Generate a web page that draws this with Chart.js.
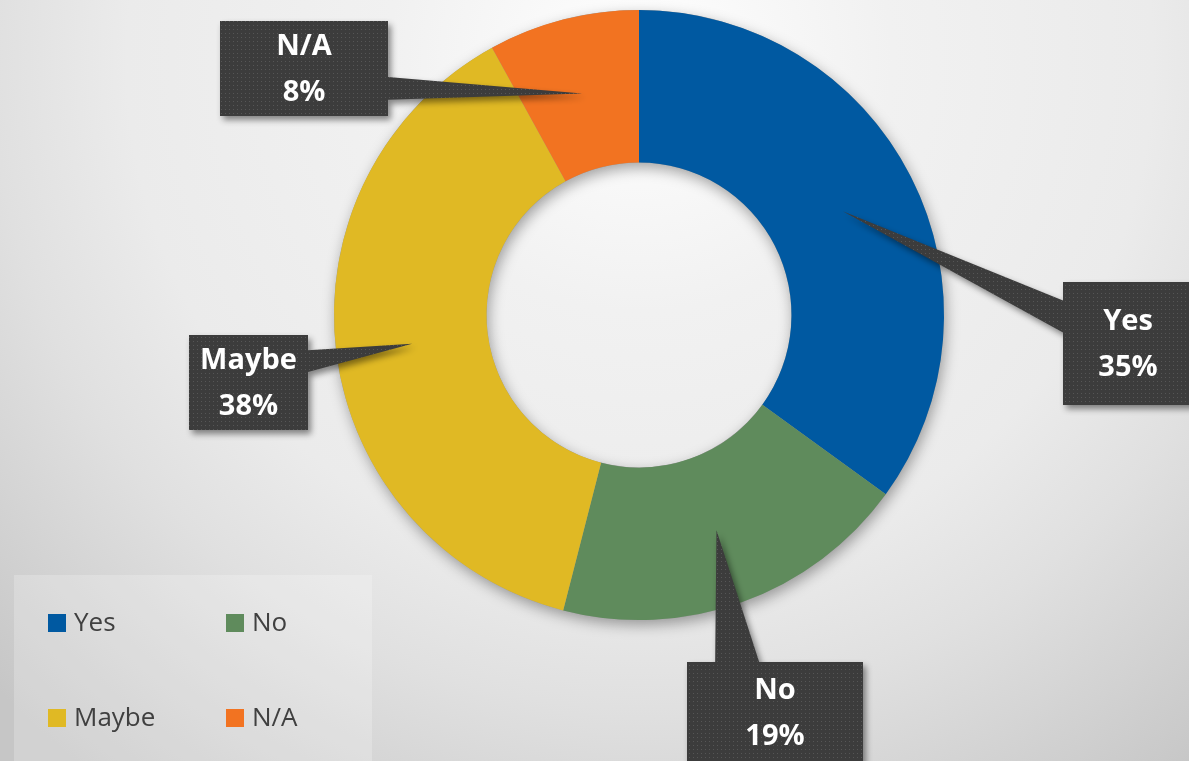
<!DOCTYPE html>
<html>
<head>
<meta charset="utf-8">
<title>Survey answers</title>
<script src="https://cdn.jsdelivr.net/npm/chart.js@4/dist/chart.umd.min.js"></script>
<style>
  html, body { margin: 0; padding: 0; background: #e8e8e8; }
  #wrap { position: relative; width: 1189px; height: 761px; overflow: hidden; }
  canvas { display: block; }
</style>
</head>
<body>
<div id="wrap">
  <canvas id="donut" width="1189" height="761"></canvas>
</div>
<script>
  // Chart data
  const labels = ["Yes", "No", "Maybe", "N/A"];
  const percentages = [35, 19, 38, 8];
  const sliceColors = ["#0059A1", "#5F8B5C", "#E0B924", "#F27321"];

  // Callout boxes (layout only), one per slice in the same order as labels
  const calloutBoxes = [
    { x: 1063, y: 282, w: 130, h: 123, side: "left",  base: [0.15, 0.41] },
    { x: 687,  y: 662, w: 176, h: 101, side: "top",   base: [0.16, 0.41] },
    { x: 189,  y: 335, w: 119, h: 95,  side: "right", base: [0.16, 0.39] },
    { x: 220,  y: 21,  w: 168, h: 95,  side: "right", base: [0.59, 0.83] }
  ];

  const FONT = "'Open Sans', 'Noto Sans', 'DejaVu Sans', sans-serif";

  // small dotted tile used to fill the callouts
  function makeDotPattern(ctx) {
    const tile = document.createElement("canvas");
    tile.width = 4;
    tile.height = 4;
    const t = tile.getContext("2d");
    t.fillStyle = "#3c3c3c";
    t.fillRect(0, 0, 4, 4);
    t.fillStyle = "#565656";
    t.fillRect(1, 1, 1, 1);
    return ctx.createPattern(tile, "repeat");
  }

  // Background gradient and legend panel
  const backgroundPlugin = {
    id: "backgroundPlugin",
    beforeDraw(chart) {
      const ctx = chart.ctx;
      const w = chart.width, h = chart.height;
      ctx.save();
      const g = ctx.createRadialGradient(640, 60, 0, 640, 60, 900);
      g.addColorStop(0, "#ffffff");
      g.addColorStop(0.28, "#f1f1f1");
      g.addColorStop(0.57, "#ebebeb");
      g.addColorStop(0.72, "#e0e0e0");
      g.addColorStop(0.97, "#c9c9c9");
      g.addColorStop(1, "#c6c6c6");
      ctx.fillStyle = g;
      ctx.fillRect(0, 0, w, h);

      // legend panel
      ctx.fillStyle = "rgba(255,255,255,0.22)";
      ctx.fillRect(14, 575, 358, 190);
      ctx.restore();
    },
    beforeDatasetsDraw(chart) {
      // soft shadow under the ring
      const arc = chart.getDatasetMeta(0).data[0];
      if (!arc) return;
      const ctx = chart.ctx;
      ctx.save();
      ctx.shadowColor = "rgba(0,0,0,0.35)";
      ctx.shadowBlur = 14;
      ctx.shadowOffsetX = 2;
      ctx.shadowOffsetY = 5;
      ctx.fillStyle = "#999999";
      ctx.beginPath();
      ctx.arc(arc.x, arc.y, arc.outerRadius, 0, Math.PI * 2);
      ctx.arc(arc.x, arc.y, arc.innerRadius, 0, Math.PI * 2, true);
      ctx.fill();
      ctx.restore();
    }
  };

  // Callout labels drawn from each arc's midpoint
  const calloutPlugin = {
    id: "calloutPlugin",
    afterDatasetsDraw(chart) {
      const ctx = chart.ctx;
      const meta = chart.getDatasetMeta(0);
      const pattern = makeDotPattern(ctx);
      const values = chart.data.datasets[0].data;

      meta.data.forEach((arc, i) => {
        const box = calloutBoxes[i];
        const tip = arc.tooltipPosition(true);
        const b0 = box.base[0], b1 = box.base[1];
        const L = box.x, R = box.x + box.w, T = box.y, B = box.y + box.h;

        ctx.save();
        ctx.beginPath();
        ctx.moveTo(L, T);
        if (box.side === "top") {
          ctx.lineTo(L + box.w * b0, T);
          ctx.lineTo(tip.x, tip.y);
          ctx.lineTo(L + box.w * b1, T);
        }
        ctx.lineTo(R, T);
        if (box.side === "right") {
          ctx.lineTo(R, T + box.h * b0);
          ctx.lineTo(tip.x, tip.y);
          ctx.lineTo(R, T + box.h * b1);
        }
        ctx.lineTo(R, B);
        ctx.lineTo(L, B);
        if (box.side === "left") {
          ctx.lineTo(L, T + box.h * b1);
          ctx.lineTo(tip.x, tip.y);
          ctx.lineTo(L, T + box.h * b0);
        }
        ctx.closePath();
        ctx.shadowColor = "rgba(0,0,0,0.45)";
        ctx.shadowBlur = 6;
        ctx.shadowOffsetX = 3;
        ctx.shadowOffsetY = 4;
        ctx.fillStyle = pattern;
        ctx.fill();
        ctx.restore();

        // text
        ctx.save();
        ctx.fillStyle = "#ffffff";
        ctx.font = "bold 29px " + FONT;
        ctx.textAlign = "center";
        ctx.textBaseline = "middle";
        const cx = L + box.w / 2;
        const cy = T + box.h / 2;
        ctx.fillText(chart.data.labels[i], cx, cy - 22);
        ctx.fillText(values[i] + "%", cx, cy + 24);
        ctx.restore();
      });
    },
    afterDraw(chart) {
      // legend, two columns by two rows
      const ctx = chart.ctx;
      const colors = chart.data.datasets[0].backgroundColor;
      const colX = [48, 226];
      const rowY = [614, 709];
      ctx.save();
      ctx.font = "26px " + FONT;
      ctx.textBaseline = "middle";
      ctx.textAlign = "left";
      chart.data.labels.forEach((lab, i) => {
        const x = colX[i % 2];
        const y = rowY[Math.floor(i / 2)];
        ctx.fillStyle = colors[i];
        ctx.fillRect(x, y, 18, 18);
        ctx.fillStyle = "#404040";
        ctx.fillText(lab, x + 26, y + 10);
      });
      ctx.restore();
    }
  };

  const ctx = document.getElementById("donut").getContext("2d");
  new Chart(ctx, {
    type: "doughnut",
    data: {
      labels: labels,
      datasets: [{
        data: percentages,
        backgroundColor: sliceColors,
        borderWidth: 0,
        hoverOffset: 0
      }]
    },
    options: {
      responsive: false,
      animation: false,
      cutout: "50%",
      layout: {
        padding: { top: 10, bottom: 141, left: 334, right: 245 }
      },
      plugins: {
        legend: { display: false },
        tooltip: { enabled: false }
      }
    },
    plugins: [backgroundPlugin, calloutPlugin]
  });
</script>
</body>
</html>
